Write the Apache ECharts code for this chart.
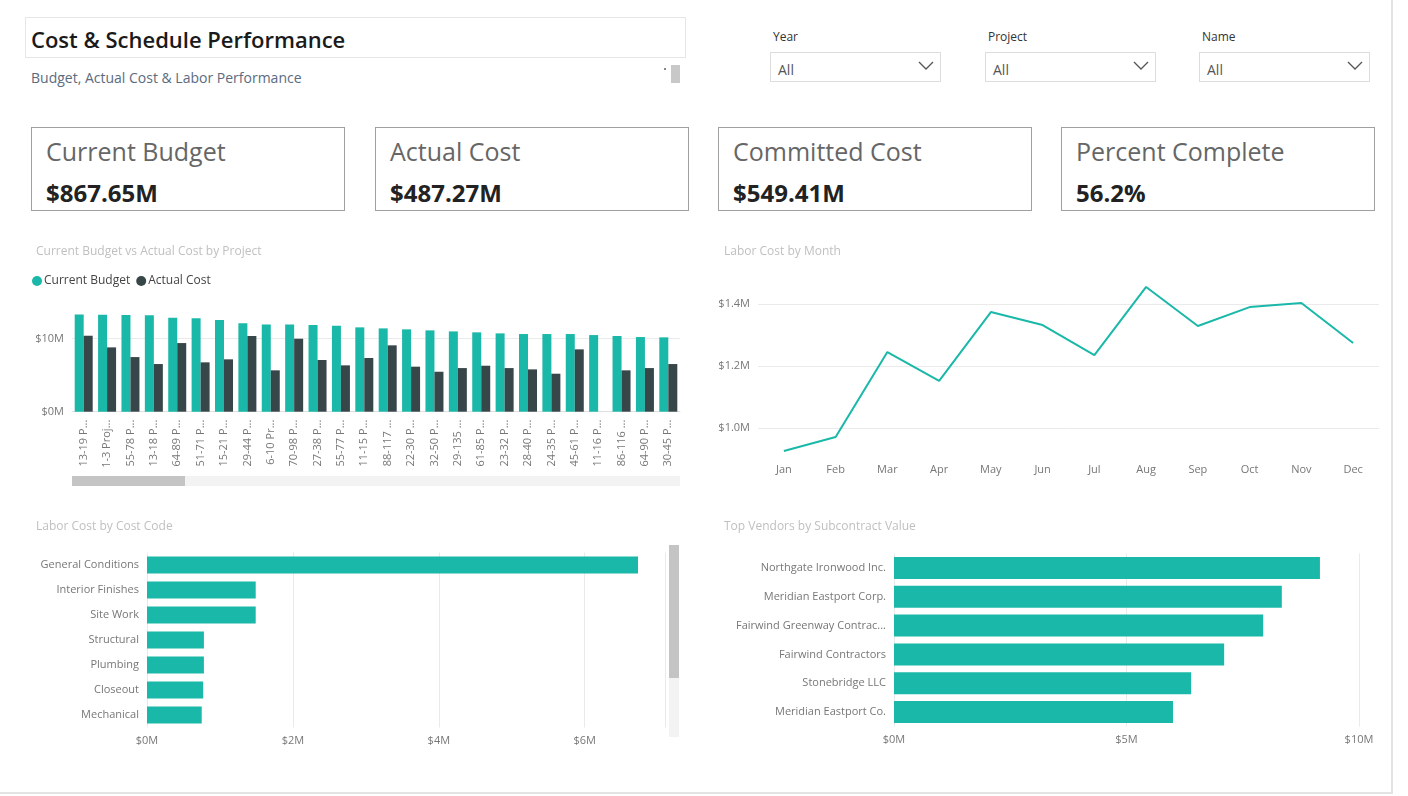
<!DOCTYPE html>
<html>
<head>
<meta charset="utf-8">
<script src="https://cdn.jsdelivr.net/npm/echarts@6/dist/echarts.min.js"></script>
<style>
  body { margin: 0; background: #fff; font-family: "Open Sans", "DejaVu Sans", sans-serif; }
  #page { position: relative; width: 1408px; height: 796px; overflow: hidden; }
  .abs { position: absolute; }
  .card { position: absolute; width: 312px; height: 82px; border: 1px solid #a0a0a0; top: 127px; }
  .card .t { position: absolute; left: 14px; top: 6px; font-size: 25px; color: #666; }
  .card .v { position: absolute; left: 14px; top: 48px; font-size: 24px; font-weight: bold; color: #222; }
  .slab { position: absolute; top: 28px; font-size: 12px; color: #333; }
  .sbox { position: absolute; top: 52px; width: 169px; height: 28px; border: 1px solid #ddd; font-size: 14px; color: #555; }
  .sbox span { position: absolute; left: 7px; top: 7px; }
  .sbox svg { position: absolute; right: 6px; top: 8px; }
  #chart { position: absolute; left: 0; top: 0; width: 1408px; height: 796px; }
</style>
</head>
<body>
<div id="page">
  <div class="abs" style="left:25px;top:17px;width:659px;height:39px;border:1px solid #e6e6e6;"></div>
  <div class="abs" style="left:31px;top:24px;font-size:22px;font-weight:600;color:#1a1a1a;">Cost &amp; Schedule Performance</div>
  <div class="abs" style="left:31px;top:68px;font-size:14px;color:#5b6b80;">Budget, Actual Cost &amp; Labor Performance</div>
  <div class="abs" style="left:671px;top:65px;width:9px;height:18px;background:#c8c8c8;"></div>
  <div class="abs" style="left:664px;top:68px;width:2px;height:2px;background:#888;"></div>

  <div class="slab" style="left:773px;">Year</div>
  <div class="sbox" style="left:770px;"><span>All</span><svg width="16" height="10"><polyline points="1,1 8,8 15,1" fill="none" stroke="#555" stroke-width="1.3"/></svg></div>
  <div class="slab" style="left:988px;">Project</div>
  <div class="sbox" style="left:985px;"><span>All</span><svg width="16" height="10"><polyline points="1,1 8,8 15,1" fill="none" stroke="#555" stroke-width="1.3"/></svg></div>
  <div class="slab" style="left:1202px;">Name</div>
  <div class="sbox" style="left:1199px;"><span>All</span><svg width="16" height="10"><polyline points="1,1 8,8 15,1" fill="none" stroke="#555" stroke-width="1.3"/></svg></div>

  <div class="card" style="left:31px;"><div class="t">Current Budget</div><div class="v">$867.65M</div></div>
  <div class="card" style="left:375px;"><div class="t">Actual Cost</div><div class="v">$487.27M</div></div>
  <div class="card" style="left:718px;"><div class="t">Committed Cost</div><div class="v">$549.41M</div></div>
  <div class="card" style="left:1061px;"><div class="t">Percent Complete</div><div class="v">56.2%</div></div>

  <div class="abs" style="left:1391px;top:0;width:2px;height:794px;background:#e3e3e3;"></div>
  <div class="abs" style="left:0;top:792px;width:1393px;height:2px;background:#e3e3e3;"></div>
  <div id="chart"></div>
</div>
<script>
var projects = ['13-19 P...', '1-3 Proj...', '55-78 P...', '13-18 P...', '64-89 P...', '51-71 P...', '15-21 P...', '29-44 P...', '6-10 Pr...', '70-98 P...', '27-38 P...', '55-77 P...', '11-15 P...', '88-117 ...', '22-30 P...', '32-50 P...', '29-135 ...', '61-85 P...', '23-32 P...', '28-40 P...', '24-35 P...', '45-61 P...', '11-16 P...', '86-116 ...', '64-90 P...', '30-45 P...'];
var budget = [13.27, 13.23, 13.18, 13.14, 12.82, 12.73, 12.5, 12.05, 11.9, 11.9, 11.82, 11.73, 11.5, 11.36, 11.23, 11.09, 10.95, 10.82, 10.68, 10.59, 10.59, 10.59, 10.45, 10.32, 10.18, 10.14];
var actual = [10.36, 8.77, 7.45, 6.5, 9.36, 6.73, 7.14, 10.32, 5.64, 9.95, 7.05, 6.32, 7.32, 9.05, 6.14, 5.45, 5.95, 6.27, 5.95, 5.77, 5.18, 8.5, null, 5.64, 5.95, 6.5];

var months = ['Jan', 'Feb', 'Mar', 'Apr', 'May', 'Jun', 'Jul', 'Aug', 'Sep', 'Oct', 'Nov', 'Dec'];
var laborByMonth = [0.926, 0.971, 1.245, 1.152, 1.374, 1.332, 1.235, 1.455, 1.329, 1.39, 1.403, 1.274];

var costCodes = ['General Conditions', 'Interior Finishes', 'Site Work', 'Structural', 'Plumbing', 'Closeout', 'Mechanical'];
var laborByCode = [6.73, 1.49, 1.49, 0.78, 0.78, 0.77, 0.75];

var vendors = ['Northgate Ironwood Inc.', 'Meridian Eastport Corp.', 'Fairwind Greenway Contrac...', 'Fairwind Contractors', 'Stonebridge LLC', 'Meridian Eastport Co.'];
var vendorValue = [9.16, 8.34, 7.94, 7.1, 6.39, 6.0];

var teal = '#1ab8a8';
var dark = '#374649';
var font = '"Open Sans", "DejaVu Sans", sans-serif';
var lbl = { color: '#777', fontSize: 11, fontFamily: font };
var split = { show: true, lineStyle: { color: '#eaeaea' } };

var myChart = echarts.init(document.getElementById('chart'), null, { renderer: 'canvas' });

var option = {
  animation: false,
  textStyle: { fontFamily: font },
  title: [
    { text: 'Current Budget vs Actual Cost by Project', left: 31, top: 241, textStyle: { fontSize: 12, fontWeight: 'normal', color: '#c0c0c0' } },
    { text: 'Labor Cost by Month', left: 719, top: 241, textStyle: { fontSize: 12, fontWeight: 'normal', color: '#c0c0c0' } },
    { text: 'Labor Cost by Cost Code', left: 31, top: 516, textStyle: { fontSize: 12, fontWeight: 'normal', color: '#c0c0c0' } },
    { text: 'Top Vendors by Subcontract Value', left: 719, top: 516, textStyle: { fontSize: 12, fontWeight: 'normal', color: '#c0c0c0' } }
  ],
  legend: {
    left: 27, top: 270, icon: 'circle', itemWidth: 10, itemHeight: 10, itemGap: 6,
    textStyle: { fontSize: 12, color: '#444', padding: [0, 0, 0, -3] },
    data: ['Current Budget', 'Actual Cost']
  },
  grid: [
    { left: 72, width: 608, top: 301.7, height: 110 },
    { left: 758, width: 621, top: 273, height: 217 },
    { left: 147, width: 518, top: 552.5, height: 175 },
    { left: 894, width: 465, top: 553.5, height: 173 }
  ],
  xAxis: [
    { gridIndex: 0, type: 'category', data: projects, axisTick: { show: false },
      axisLine: { lineStyle: { color: '#e0e0e0' } },
      axisLabel: Object.assign({}, lbl, { rotate: 90, interval: 0, margin: 8 }) },
    { gridIndex: 1, type: 'category', data: months, axisTick: { show: false }, axisLine: { show: false },
      offset: -34, axisLabel: lbl },
    { gridIndex: 2, type: 'value', min: 0, max: 7.1, interval: 2, splitLine: split,
      axisLabel: Object.assign({}, lbl, { showMaxLabel: false, formatter: function (v) { return '$' + v + 'M'; } }) },
    { gridIndex: 3, type: 'value', min: 0, max: 10, interval: 5, splitLine: split,
      axisLabel: Object.assign({}, lbl, { formatter: function (v) { return '$' + v + 'M'; } }) }
  ],
  yAxis: [
    { gridIndex: 0, type: 'value', min: 0, max: 15, interval: 10,
      splitLine: { show: true, showMaxLine: false, lineStyle: { color: '#eaeaea' } },
      axisLabel: Object.assign({}, lbl, { showMaxLabel: false, formatter: function (v) { return '$' + v + 'M'; } }) },
    { gridIndex: 1, type: 'value', min: 0.8, max: 1.5, interval: 0.2,
      splitLine: { show: true, showMinLine: false, showMaxLine: false, lineStyle: { color: '#eaeaea' } },
      axisLabel: Object.assign({}, lbl, { showMinLabel: false, showMaxLabel: false, formatter: function (v) { return '$' + v.toFixed(1) + 'M'; } }) },
    { gridIndex: 2, type: 'category', data: costCodes, inverse: true, axisTick: { show: false },
      axisLine: { show: false }, axisLabel: lbl },
    { gridIndex: 3, type: 'category', data: vendors, inverse: true, axisTick: { show: false },
      axisLine: { show: false }, axisLabel: lbl }
  ],
  series: [
    { name: 'Current Budget', type: 'bar', xAxisIndex: 0, yAxisIndex: 0, data: budget, itemStyle: { color: teal }, barWidth: 9, barGap: '0%' },
    { name: 'Actual Cost', type: 'bar', xAxisIndex: 0, yAxisIndex: 0, data: actual, itemStyle: { color: dark }, barWidth: 9, barGap: '0%' },
    { name: 'Labor', type: 'line', xAxisIndex: 1, yAxisIndex: 1, data: laborByMonth, showSymbol: false, lineStyle: { color: teal, width: 2 } },
    { name: 'Cost Code', type: 'bar', xAxisIndex: 2, yAxisIndex: 2, data: laborByCode, barWidth: 17, itemStyle: { color: teal } },
    { name: 'Vendors', type: 'bar', xAxisIndex: 3, yAxisIndex: 3, data: vendorValue, barWidth: 22, itemStyle: { color: teal } }
  ],
  graphic: [
    { type: 'rect', shape: { x: 72, y: 476, width: 608, height: 10 }, style: { fill: '#f3f3f3' } },
    { type: 'rect', shape: { x: 72, y: 476, width: 113, height: 10 }, style: { fill: '#c4c4c4' } },
    { type: 'rect', shape: { x: 669, y: 545, width: 10, height: 192 }, style: { fill: '#f3f3f3' } },
    { type: 'rect', shape: { x: 669, y: 545, width: 10, height: 133 }, style: { fill: '#c4c4c4' } }
  ]
};

myChart.setOption(option);
window.addEventListener('resize', myChart.resize);
</script>
</body>
</html>
